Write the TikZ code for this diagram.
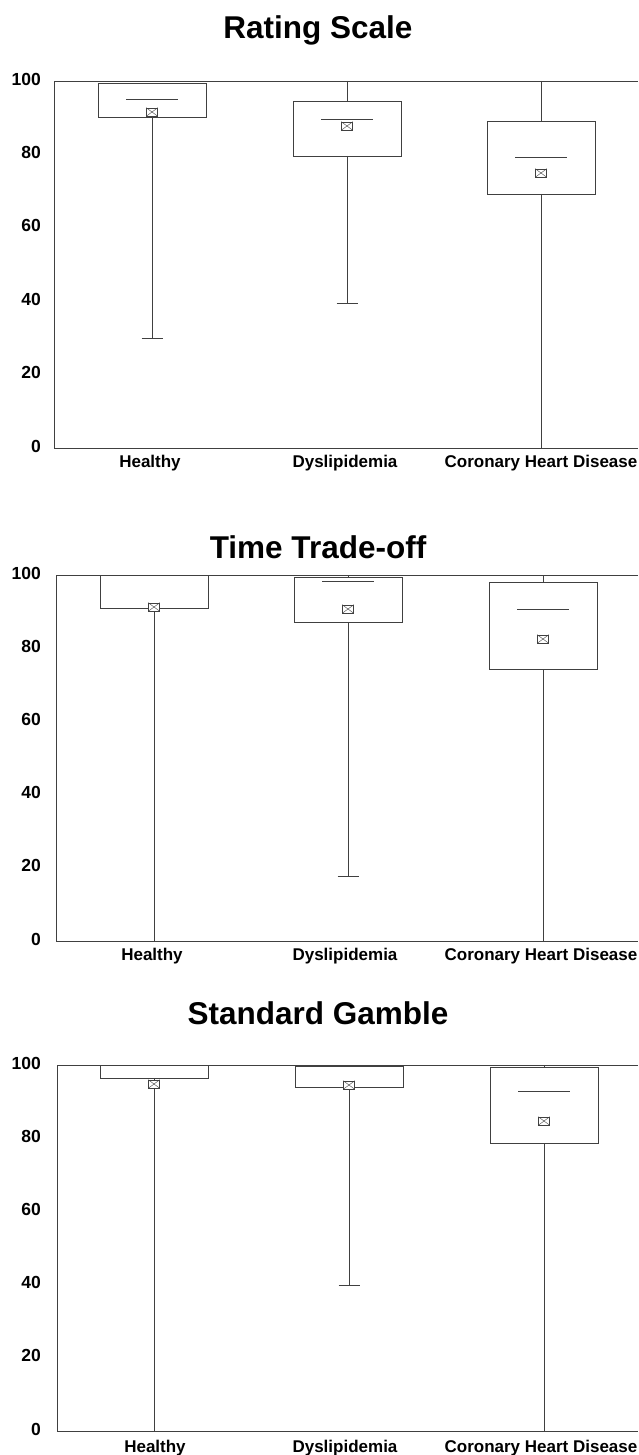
\documentclass[tikz,border=0pt]{standalone}
\usepackage{fontspec}
\setmainfont{Liberation Sans}
\newcommand\panelfr[4]{% axis x, top y, bottom y, name
  \draw[ln] (638,#2) -- (#1,#2) -- (#1,#3) -- (638,#3);
  \foreach \v in {0,20,...,100}
    \node[tick] (#4t\v) at (41,{#3-(#3-#2)*(\v/100)-2}) {\v};
}
\newcommand\bxp[8]{% name, xc, box top, box bottom, median, mean, whisker top, whisker low
  \draw[ln] (#2,#7) -- (#2,#3);
  \draw[ln] (#2,#4) -- (#2,#8);
  \draw[ln] ({#2-54},#3) rectangle ({#2+54},#4);
  \draw[ln] ({#2-26},#5) -- ({#2+26},#5);
  \node[meanmk] (#1m) at (#2,#6) {};
  \draw[thin, draw=black!75] (#1m.north west) -- (#1m.south east) (#1m.north east) -- (#1m.south west);
}
\newcommand\wcap[3]{\draw[ln] ({#1-10.5},#2) -- ({#1+10.5},#2);}
\begin{document}
\begin{tikzpicture}[x=1pt,y=-1pt,
  ln/.style={line width=0.9pt, draw=black!75},
  meanmk/.style={draw=black!75, line width=0.7pt, fill=white, minimum width=11pt, minimum height=8pt, inner sep=0pt},
  ttl/.style={font=\bfseries\fontsize{31.5}{36}\selectfont, anchor=base},
  tick/.style={font=\bfseries\fontsize{17.5}{20}\selectfont, anchor=east, inner sep=0pt},
  cat/.style={font=\bfseries\fontsize{17}{20}\selectfont, anchor=base}]
\useasboundingbox (0,0) rectangle (638,1455);
% ---------- Panel 1: Rating Scale ----------
\node[ttl] (t1) at (318,39) {Rating Scale};
\panelfr{54}{81}{448}{a}
\bxp{ah}{152}{83}{117}{99}{112}{83}{338}
\wcap{152}{338}{}
\bxp{ad}{347}{101}{156}{119}{126}{81}{303}
\wcap{347}{303}{}
\bxp{ac}{541}{121}{194}{157}{173}{81}{448}
\node[cat] (ach) at (150,467) {Healthy};
\node[cat] (acd) at (345,467) {Dyslipidemia};
\node[cat] (acc) at (541,467) {Coronary Heart Disease};
% ---------- Panel 2: Time Trade-off ----------
\node[ttl] (t2) at (318,558) {Time Trade-off};
\panelfr{56}{575}{941}{b}
\bxp{bh}{154}{575}{608}{575}{607}{575}{941}
\bxp{bd}{348}{577}{622}{581}{609}{575}{876}
\wcap{348}{876}{}
\bxp{bc}{543}{582}{669}{609}{639}{575}{941}
\node[cat] (bch) at (152,960) {Healthy};
\node[cat] (bcd) at (345,960) {Dyslipidemia};
\node[cat] (bcc) at (541,960) {Coronary Heart Disease};
% ---------- Panel 3: Standard Gamble ----------
\node[ttl] (t3) at (318,1024) {Standard Gamble};
\panelfr{57}{1065}{1431}{c}
\bxp{ch}{154}{1065}{1078}{1065}{1084}{1065}{1431}
\bxp{cd}{349}{1066}{1087}{1066}{1085}{1065}{1285}
\wcap{349}{1285}{}
\bxp{cc}{544}{1067}{1143}{1091}{1121}{1065}{1431}
\node[cat] (cch) at (155,1452) {Healthy};
\node[cat] (ccd) at (345,1452) {Dyslipidemia};
\node[cat] (ccc) at (541,1452) {Coronary Heart Disease};
\end{tikzpicture}
\end{document}
